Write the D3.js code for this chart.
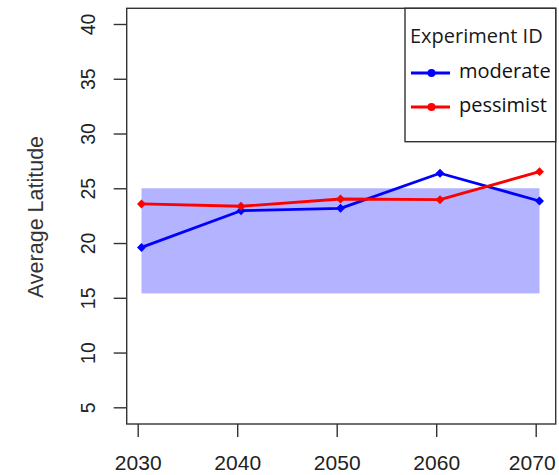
<!DOCTYPE html>
<html>
<head>
<meta charset="utf-8">
<script src="https://cdn.jsdelivr.net/npm/d3@7"></script>
<style>
  html, body { margin: 0; padding: 0; background: #fff; }
  svg { display: block; }
</style>
</head>
<body>
<svg id="chart" width="559" height="475"></svg>
<script>
// Years on the horizontal axis
const years = [2030, 2040, 2050, 2060, 2070];
// Average latitude per experiment
const moderate = [19.6, 22.95, 23.17, 26.37, 23.84];
const pessimist = [23.57, 23.36, 24.02, 23.96, 26.52];
const seriesNames = ["moderate", "pessimist"];
const seriesColors = ["#0000ff", "#ff0000"];
// Shaded reference band: [start year, end year], [low, high] latitude
const bandYears = [2030, 2070];
const bandLat = [15.4, 25];
const yTicks = [5, 10, 15, 20, 25, 30, 35, 40];
const xTicks = [2030, 2040, 2050, 2060, 2070];

const axisFont = "'Liberation Sans', Arial, Helvetica, sans-serif";
const legendFont = "'Open Sans', sans-serif";

const svg = d3.select("#chart");
const box = { left: 126.7, right: 555.7, top: 8.3, bottom: 424 };

const x = d3.scaleLinear().domain([2030, 2070]).range([141.5, 539.5]);
const y = d3.scaleLinear().domain([5, 40]).range([407.3, 24]);

const axisColor = "#333";

// band
svg.append("rect")
  .attr("x", x(bandYears[0]))
  .attr("y", y(bandLat[1]))
  .attr("width", x(bandYears[1]) - x(bandYears[0]))
  .attr("height", y(bandLat[0]) - y(bandLat[1]))
  .attr("fill", "#b3b3ff");

// series lines and diamond markers
const series = [moderate, pessimist];
const line = d3.line().x((d, i) => x(years[i])).y(d => y(d));
series.forEach((vals, s) => {
  svg.append("path")
    .attr("d", line(vals))
    .attr("fill", "none")
    .attr("stroke", seriesColors[s])
    .attr("stroke-width", 2.8)
    .attr("stroke-linejoin", "round");
  svg.selectAll(null).data(vals).enter().append("path")
    .attr("d", d3.symbol().type(d3.symbolSquare).size(40))
    .attr("transform", (d, i) => `translate(${x(years[i])},${y(d)}) rotate(45)`)
    .attr("fill", seriesColors[s]);
});

// plot frame
svg.append("rect")
  .attr("x", box.left).attr("y", box.top)
  .attr("width", box.right - box.left).attr("height", box.bottom - box.top)
  .attr("fill", "none").attr("stroke", axisColor).attr("stroke-width", 1.4);

// y axis
const yAxis = d3.axisLeft(y).tickValues(yTicks).tickSize(13).tickSizeOuter(0);
const gy = svg.append("g").attr("transform", `translate(${box.left},0)`).call(yAxis);
gy.select(".domain").remove();
gy.selectAll(".tick line").attr("stroke", axisColor).attr("stroke-width", 1.4);
gy.selectAll(".tick text")
  .attr("font-family", axisFont)
  .attr("font-size", 19.5)
  .attr("fill", "#222")
  .attr("text-anchor", "middle")
  .attr("x", null).attr("dy", null)
  .attr("transform", `translate(${95 - box.left},0) rotate(-90)`);

// x axis (ticks start at the frame's bottom edge)
const xAxis = d3.axisBottom(x).tickValues(xTicks).tickFormat(d3.format("d")).tickSize(13).tickSizeOuter(0);
const gx = svg.append("g").attr("transform", `translate(-3.8,${box.bottom})`).call(xAxis);
gx.select(".domain").remove();
gx.selectAll(".tick line").attr("stroke", axisColor).attr("stroke-width", 1.4);
gx.selectAll(".tick text")
  .attr("font-family", axisFont)
  .attr("font-size", 21)
  .attr("fill", "#222")
  .attr("dy", null)
  .attr("y", 46)
  .attr("dx", (d, i, n) => i === n.length - 1 ? -4 : 0);

// y axis title
svg.append("text")
  .attr("transform", `translate(43,217) rotate(-90)`)
  .attr("text-anchor", "middle")
  .attr("font-family", axisFont)
  .attr("font-size", 21.5)
  .attr("fill", "#333")
  .text("Average Latitude");

// legend (top right, sharing the frame's corner)
const lg = svg.append("g");
lg.append("rect")
  .attr("x", 405).attr("y", box.top)
  .attr("width", box.right - 405).attr("height", 141.7 - box.top)
  .attr("fill", "#fff").attr("stroke", axisColor).attr("stroke-width", 1.4);
lg.append("text")
  .attr("x", 410).attr("y", 42.7)
  .attr("font-family", legendFont)
  .attr("font-size", 20)
  .attr("fill", "#1a1a1a")
  .text("Experiment ID");
const rowY = [73, 107];
seriesNames.forEach((name, i) => {
  lg.append("line")
    .attr("x1", 411).attr("x2", 450)
    .attr("y1", rowY[i]).attr("y2", rowY[i])
    .attr("stroke", seriesColors[i]).attr("stroke-width", 2.8);
  lg.append("circle")
    .attr("cx", 431.5).attr("cy", rowY[i]).attr("r", 4)
    .attr("fill", seriesColors[i]);
  lg.append("text")
    .attr("x", 459).attr("y", rowY[i] + 4.5)
    .attr("font-family", legendFont)
    .attr("font-size", 20)
    .attr("fill", "#111")
    .text(name);
});
</script>
</body>
</html>
